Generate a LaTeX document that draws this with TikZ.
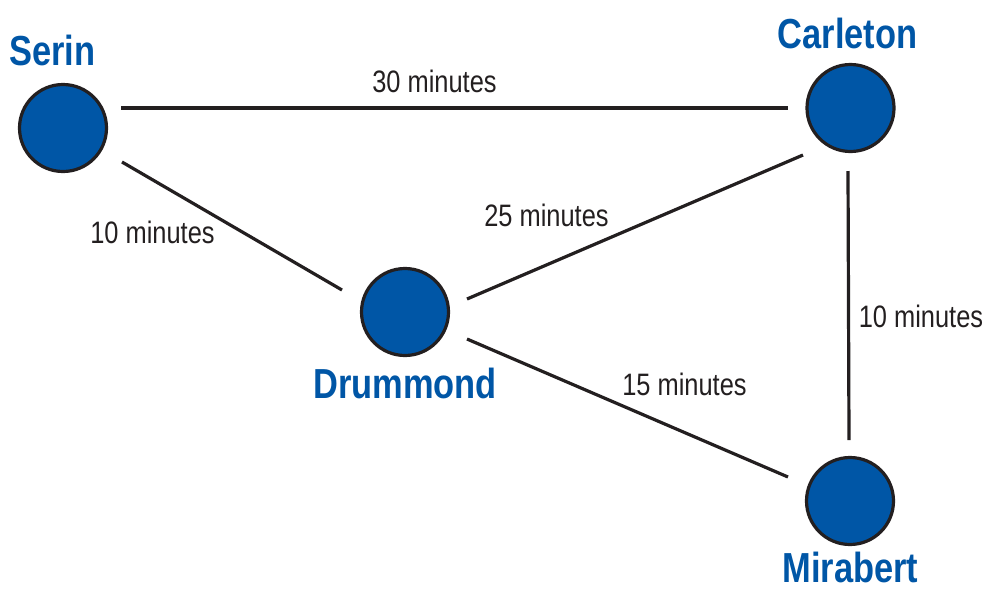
\documentclass[tikz,border=0pt]{standalone}
\usepackage{fontspec}
\newfontfamily\condfont[FakeStretch=0.82]{Liberation Sans}
\usetikzlibrary{calc}
\definecolor{townblue}{RGB}{0,86,166}
\definecolor{inkdark}{RGB}{35,31,32}
\tikzset{
  town/.style={circle, draw=inkdark, line width=3.2pt, fill=townblue, minimum size=87pt, inner sep=0pt},
  townname/.style={anchor=base, text=townblue, font=\condfont\bfseries\fontsize{42}{46}\selectfont, inner sep=0pt},
  timelabel/.style={anchor=base, text=inkdark, font=\condfont\fontsize{31}{34}\selectfont, inner sep=0pt},
  road/.style={draw=inkdark, line width=3.2pt}
}
\begin{document}
\begin{tikzpicture}[x=1pt, y=-1pt]
\useasboundingbox (0,0) rectangle (987,592);
% towns
\node[town] (serin) at (63,128) {};
\node[town] (carleton) at (850.5,108) {};
\node[town] (drummond) at (405,312) {};
\node[town] (mirabert) at (850,501) {};
% names
\node[townname] (serinname) at (52.5,65) {Serin};
\node[townname] (carletonname) at (847.5,48) {Carleton};
\node[townname] (drummondname) at (405,398) {Drummond};
\node[townname] (mirabertname) at (850.5,582) {Mirabert};
% roads
\draw[road] ($(serin)+(58,-20)$) -- ($(carleton)+(-62.5,0)$);
\draw[road] ($(serin)+(59,34)$) -- ($(drummond)+(-63,-22)$);
\draw[road] ($(drummond)+(62,-13)$) -- ($(carleton)+(-47.5,47)$);
\draw[road] ($(drummond)+(62,27)$) -- ($(mirabert)+(-62,-24)$);
\draw[road] ($(carleton)+(-2.5,63)$) -- ($(mirabert)+(-1,-61)$);
% times
\node[timelabel] (t1) at (434.5,92) {30 minutes};
\node[timelabel] (t2) at (152.5,243) {10 minutes};
\node[timelabel] (t3) at (546.5,226) {25 minutes};
\node[timelabel] (t4) at (921,327) {10 minutes};
\node[timelabel] (t5) at (684.5,395) {15 minutes};
\end{tikzpicture}
\end{document}
